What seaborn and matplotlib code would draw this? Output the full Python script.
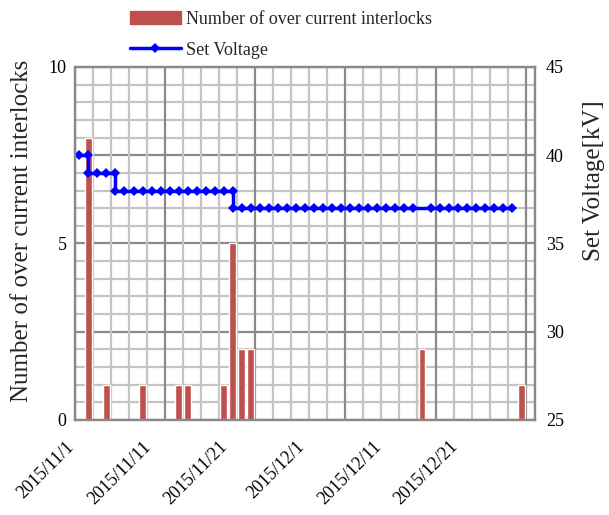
import numpy as np
import matplotlib
matplotlib.use("Agg")
import matplotlib.pyplot as plt
import matplotlib.transforms as mtransforms
import seaborn as sns
import pandas as pd
from matplotlib.patches import Patch
from matplotlib.lines import Line2D

# day index of each interlock bar and its count
bar_days = [1, 3, 7, 11, 12, 16, 17, 18, 19, 38, 49]
bar_counts = [8, 1, 1, 1, 1, 1, 5, 2, 2, 2, 1]

# set voltage record (steps appear twice on the same day)
volt_days = [0, 1, 1, 2, 3, 4, 4, 5, 6, 7, 8, 9, 10, 11, 12, 13, 14, 15, 16, 17,
             17, 18, 19, 20, 21, 22, 23, 24, 25, 26, 27, 28, 29, 30, 31, 32, 33,
             34, 35, 36, 37, 39, 40, 41, 42, 43, 44, 45, 46, 47, 48]
volt_kv = [40, 40, 39, 39, 39, 39, 38, 38, 38, 38, 38, 38, 38, 38, 38, 38, 38, 38, 38, 38,
           37, 37, 37, 37, 37, 37, 37, 37, 37, 37, 37, 37, 37, 37, 37, 37, 37,
           37, 37, 37, 37, 37, 37, 37, 37, 37, 37, 37, 37, 37, 37]

date_labels = ['2015/11/1', '2015/11/11', '2015/11/21', '2015/12/1', '2015/12/11', '2015/12/21']
date_pos = [-0.5, 8.0, 16.5, 25.0, 33.5, 42.0]

sns.set_style("white")
plt.rcParams['font.family'] = ['Liberation Serif', 'DejaVu Serif']

bars = pd.DataFrame({'day': bar_days, 'count': bar_counts})
volt = pd.DataFrame({'day': volt_days, 'kv': volt_kv})

fig = plt.figure(figsize=(6.09, 5.15), dpi=100)
ax = fig.add_axes([0.123, 0.1845, 0.755, 0.6855])
ax2 = ax.twinx()

light = '#c4c4c4'
dark = '#8a8a8a'
for v in np.arange(0, 10.01, 0.5):
    ax.axhline(v, color=dark if v % 2.5 == 0 else light, lw=1.6, zorder=0)
for v in np.arange(-0.5, 50.6, 2):
    ax.axvline(v, color=dark if (v + 0.5) % 10 == 0 else light, lw=1.6, zorder=0)

sns.barplot(data=bars, x='day', y='count', native_scale=True, width=0.75,
            color='#c0504d', saturation=1, ax=ax, zorder=2)
sns.lineplot(data=volt, x='day', y='kv', estimator=None, sort=False, ax=ax2,
             color='#0000ff', lw=2.5, marker='D', markersize=5, markeredgewidth=0)

ax.set_xlim(-0.5, 50.5)
ax.set_ylim(0, 10)
ax2.set_ylim(25, 45)
ax.set_yticks([0, 5, 10])
ax2.set_yticks([25, 30, 35, 40, 45])
ax.set_xticks(date_pos)
ax.set_xticklabels(date_labels, rotation=45, ha='right', rotation_mode='anchor')
for a in (ax, ax2):
    a.tick_params(length=0, labelsize=13, colors='black')
    for s in a.spines.values():
        s.set_color('#8a8a8a')
        s.set_linewidth(1.6)
ax.tick_params(axis='x', pad=13)
ax.tick_params(axis='y', pad=6)
ax2.tick_params(axis='y', pad=8)

shift = mtransforms.ScaledTranslation(-9 / 100, 0, fig.dpi_scale_trans)
for lbl in ax.get_xticklabels():
    lbl.set_transform(lbl.get_transform() + shift)

ax.set_xlabel('')
ax.set_ylabel('Number of over current interlocks', fontsize=18)
ax.yaxis.set_label_coords(-0.092, 0.535)
ax2.set_xlabel('')
ax2.set_ylabel('Set Voltage[kV]', fontsize=18)
ax2.yaxis.set_label_coords(1.106, 0.677)

handles = [Patch(color='#c0504d'),
           Line2D([], [], color='#0000ff', lw=2.5, marker='D', markersize=5, markeredgewidth=0)]
fig.legend(handles, ['Number of over current interlocks', 'Set Voltage'],
           loc='upper left', bbox_to_anchor=(0.187, 1.01), frameon=False,
           fontsize=13, handlelength=2.8, handletextpad=0.3, labelspacing=0.75)

fig.savefig('out.png', dpi=100)
